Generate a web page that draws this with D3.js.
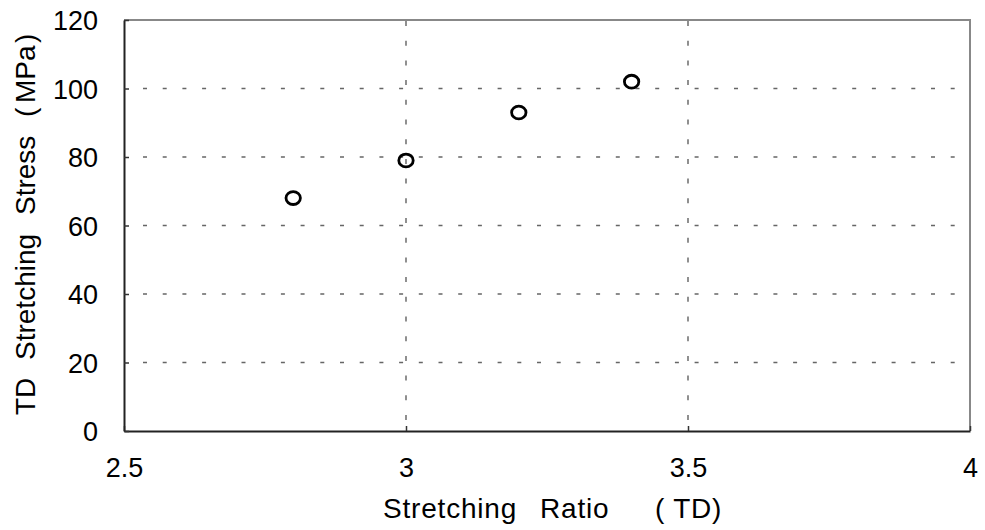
<!DOCTYPE html>
<html>
<head>
<meta charset="utf-8">
<script src="https://cdn.jsdelivr.net/npm/d3@7"></script>
<style>
  body { margin: 0; background: #fff; }
  svg { display: block; font-family: "Liberation Sans", Arial, sans-serif; }
  .axis .tick text { font-size: 27px; fill: #000; }
  .axis-title { font-size: 28px; fill: #000; }
</style>
</head>
<body>
<svg id="chart"></svg>
<script>
// data
const stretchRatio = [2.8, 3.0, 3.2, 3.4];
const tdStress = [68, 79, 93, 102];
const xTicks = [2.5, 3, 3.5, 4];
const yTicks = [0, 20, 40, 60, 80, 100, 120];
const xTitleWords = ['Stretching', 'Ratio', '( TD)'];
const yTitleWords = ['TD', 'Stretching', 'Stress', '(', 'MPa', ')'];

const config = {
    containerWidth: 985,
    containerHeight: 530,
    margin: {top: 20, right: 15, bottom: 99, left: 124}
};

const width = config.containerWidth - config.margin.left - config.margin.right;
const height = config.containerHeight - config.margin.top - config.margin.bottom;

const svg = d3.select('#chart')
    .attr('width', config.containerWidth)
    .attr('height', config.containerHeight);

const chart = svg.append('g')
    .attr('transform', `translate(${config.margin.left},${config.margin.top})`);

const xScale = d3.scaleLinear().domain([2.5, 4]).range([0, width]);
const yScale = d3.scaleLinear().domain([0, 120]).range([height, 0]);

// dashed gridlines
chart.append('g')
    .selectAll('line')
    .data(yTicks.filter(d => d > 0 && d < 120))
    .join('line')
    .attr('x1', 19).attr('x2', width)
    .attr('y1', d => yScale(d)).attr('y2', d => yScale(d))
    .attr('stroke', '#666')
    .attr('stroke-width', 1.3)
    .attr('stroke-dasharray', '4,15.7');

chart.append('g')
    .selectAll('line')
    .data(xTicks.filter(d => d > 2.5 && d < 4))
    .join('line')
    .attr('x1', d => xScale(d)).attr('x2', d => xScale(d))
    .attr('y1', 1).attr('y2', height)
    .attr('stroke', '#555')
    .attr('stroke-width', 1.3)
    .attr('stroke-dasharray', '5,14.7');

// frame: top and right gray
chart.append('path')
    .attr('d', `M0,0H${width}V${height}`)
    .attr('fill', 'none')
    .attr('stroke', '#888')
    .attr('stroke-width', 2);

// axes with small inward ticks
const xAxis = d3.axisBottom(xScale).tickValues(xTicks).tickSizeInner(-5).tickSizeOuter(0)
    .tickFormat(d3.format('~g'));
const yAxis = d3.axisLeft(yScale).tickValues(yTicks).tickSizeInner(-5).tickSizeOuter(0);

const xAxisG = chart.append('g')
    .attr('class', 'axis x-axis')
    .attr('transform', `translate(0,${height})`)
    .call(xAxis);
const yAxisG = chart.append('g')
    .attr('class', 'axis y-axis')
    .call(yAxis);

[xAxisG, yAxisG].forEach(g => {
    g.select('.domain').attr('stroke', '#222').attr('stroke-width', 2);
    g.selectAll('.tick line').attr('stroke', '#333').attr('stroke-width', 1.5);
});
xAxisG.selectAll('.tick text').attr('y', 46).attr('dy', 0);
yAxisG.selectAll('.tick text').attr('x', -26).attr('dy', '0.36em');

// points
chart.append('g')
    .selectAll('ellipse')
    .data(stretchRatio.map((x, i) => ({x: x, y: tdStress[i]})))
    .join('ellipse')
    .attr('cx', d => xScale(d.x))
    .attr('cy', d => yScale(d.y))
    .attr('rx', 7.2)
    .attr('ry', 6.4)
    .attr('fill', 'none')
    .attr('stroke', '#000')
    .attr('stroke-width', 2.8);

// axis titles, word by word to keep the wide spacing of the original
const xTitleStarts = [259, 416, 531];
chart.append('text')
    .attr('class', 'axis-title')
    .attr('y', height + 87)
    .style('letter-spacing', '0.8px')
    .selectAll('tspan')
    .data(xTitleWords)
    .join('tspan')
    .attr('x', (d, i) => xTitleStarts[i])
    .text(d => d);

const yTitleStarts = [-395, -340, -195, -97, -83, -23];
chart.append('text')
    .attr('class', 'axis-title')
    .attr('transform', 'rotate(-90)')
    .attr('y', -config.margin.left + 35)
    .selectAll('tspan')
    .data(yTitleWords)
    .join('tspan')
    .attr('x', (d, i) => yTitleStarts[i])
    .text(d => d);
</script>
</body>
</html>
